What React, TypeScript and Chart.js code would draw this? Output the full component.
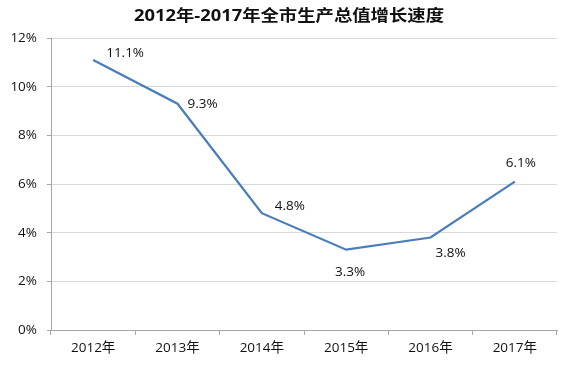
import React, { useEffect, useRef } from "react";
import { Chart, registerables } from "chart.js";

Chart.register(...registerables);

const TITLE = "2012年-2017年全市生产总值增长速度";
const categories = ["2012年", "2013年", "2014年", "2015年", "2016年", "2017年"];
const growth = [11.1, 9.3, 4.8, 3.3, 3.8, 6.1];
const labelPlacement = ["upright", "right", "upright", "below", "belowright", "above"];

const FONT = "'Open Sans', 'Noto Sans CJK SC', sans-serif";

const titlePlugin = {
  id: "stretchTitle",
  afterDraw(chart: any) {
    const ctx = chart.ctx;
    ctx.save();
    ctx.font = `bold 16px ${FONT}`;
    ctx.fillStyle = "#111111";
    ctx.textAlign = "center";
    ctx.textBaseline = "middle";
    const w = ctx.measureText(TITLE).width;
    const sx = 310 / w;
    ctx.translate(289, 16);
    ctx.scale(sx, 1);
    ctx.fillText(TITLE, 0, 0);
    ctx.restore();
  },
};

const labelPlugin = {
  id: "pointLabels",
  afterDatasetsDraw(chart: any) {
    const ctx = chart.ctx;
    const meta = chart.getDatasetMeta(0);
    ctx.save();
    ctx.font = `13.5px ${FONT}`;
    ctx.fillStyle = "#111111";
    ctx.textBaseline = "middle";
    meta.data.forEach((pt: any, i: number) => {
      const text = growth[i].toFixed(1) + "%";
      const p = labelPlacement[i];
      let x = pt.x, y = pt.y;
      if (p === "upright") { ctx.textAlign = "left"; x += 13; y -= 7; }
      else if (p === "right") { ctx.textAlign = "left"; x += 10; }
      else if (p === "below") { ctx.textAlign = "center"; x += 4; y += 22; }
      else if (p === "belowright") { ctx.textAlign = "left"; x += 5; y += 16; }
      else { ctx.textAlign = "center"; x += 6; y -= 18; }
      ctx.fillText(text, x, y);
    });
    ctx.restore();
  },
};

export default function App() {
  const ref = useRef<HTMLCanvasElement>(null);
  useEffect(() => {
    document.body.style.margin = "0";
    const chart = new Chart(ref.current!, {
      type: "line",
      data: {
        labels: categories,
        datasets: [
          {
            data: growth,
            borderColor: "#4a7ebb",
            borderWidth: 2.25,
            pointRadius: 0,
            tension: 0,
            fill: false,
          },
        ],
      },
      options: {
        animation: false,
        responsive: false,
        maintainAspectRatio: false,
        layout: { padding: { top: 38, right: 26, bottom: 0, left: 0 } },
        plugins: { legend: { display: false }, title: { display: false }, tooltip: { enabled: false } },
        scales: {
          x: {
            offset: true,
            grid: {
              offset: true,
              drawOnChartArea: false,
              drawTicks: true,
              tickLength: 5,
              tickColor: "#a6a6a6",
            },
            border: { color: "#a6a6a6", width: 1 },
            ticks: { color: "#111111", font: { family: FONT, size: 13.5 }, padding: 5, maxRotation: 0 },
            afterFit(s: any) { s.height = 35; },
          },
          y: {
            min: 0,
            max: 12,
            ticks: {
              stepSize: 2,
              color: "#111111",
              font: { family: FONT, size: 13.5 },
              padding: 10,
              callback: (v: any) => v + "%",
            },
            grid: { color: "#d9d9d9", tickColor: "#a6a6a6", tickLength: 4 },
            border: { color: "#a6a6a6", width: 1 },
            afterFit(s: any) { s.width = 51; },
          },
        },
      },
      plugins: [titlePlugin, labelPlugin],
    });
    return () => chart.destroy();
  }, []);
  return (
    <div style={{ width: 583, height: 365, background: "#fff" }}>
      <canvas ref={ref} width={583} height={365} />
    </div>
  );
}
